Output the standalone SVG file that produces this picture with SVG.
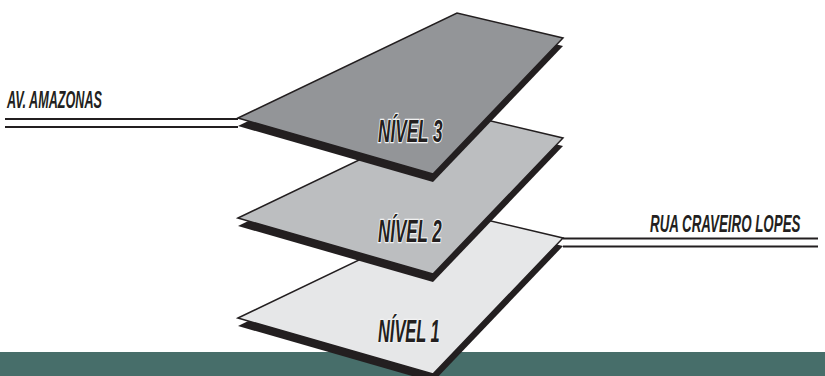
<svg xmlns="http://www.w3.org/2000/svg" width="825" height="376" viewBox="0 0 825 376">
  <defs>
    <style>
      .shadow { fill: #231f20; }
      .plane { stroke: #231f20; stroke-width: 1.5; stroke-linejoin: miter; }
      .road { stroke: #231f20; stroke-width: 2; fill: none; }
      .lbl { font-family: "Liberation Sans", Arial, sans-serif; font-weight: bold; font-style: italic; fill: #231f20; font-size: 24px; }
      .lvl { font-family: "Liberation Sans", Arial, sans-serif; font-weight: bold; font-style: italic; fill: #231f20; stroke: #f2f2f2; stroke-width: 2.6; paint-order: stroke; font-size: 32px; }
    </style>
    <polygon id="shape" points="238,118 457,13 563,38 433,174"/>
  </defs>
  <rect width="825" height="376" fill="#ffffff"/>
  <rect id="ground" x="0" y="352" width="825" height="24" fill="#476e6a"/>

  <g id="connectors">
    <line class="road" x1="5" y1="119" x2="238" y2="119"/>
    <line class="road" x1="5" y1="127" x2="238" y2="127"/>
    <line class="road" x1="563" y1="238.5" x2="818" y2="238.5"/>
    <line class="road" x1="563" y1="246.5" x2="818" y2="246.5"/>
  </g>

  <g id="nivel1" transform="translate(0,200)">
    <use href="#shape" class="shadow" transform="translate(0,8)"/>
    <use href="#shape" class="plane" fill="#e6e7e8"/>
    <text class="lvl" transform="translate(378,142) scale(0.513,1)">NÍVEL 1</text>
  </g>

  <g id="nivel2" transform="translate(0,100)">
    <use href="#shape" class="shadow" transform="translate(0,8)"/>
    <use href="#shape" class="plane" fill="#bcbec0"/>
    <text class="lvl" transform="translate(378,142) scale(0.53,1)">NÍVEL 2</text>
  </g>

  <g id="nivel3">
    <use href="#shape" class="shadow" transform="translate(0,8)"/>
    <use href="#shape" class="plane" fill="#939598"/>
    <text class="lvl" transform="translate(378,142) scale(0.537,1)">NÍVEL 3</text>
  </g>

  <g id="av-amazonas">
    <text class="lbl" transform="translate(7,108) scale(0.527,1)">AV. AMAZONAS</text>
  </g>
  <g id="rua-craveiro-lopes">
    <text class="lbl" transform="translate(650,232) scale(0.556,1)">RUA CRAVEIRO LOPES</text>
  </g>
</svg>
